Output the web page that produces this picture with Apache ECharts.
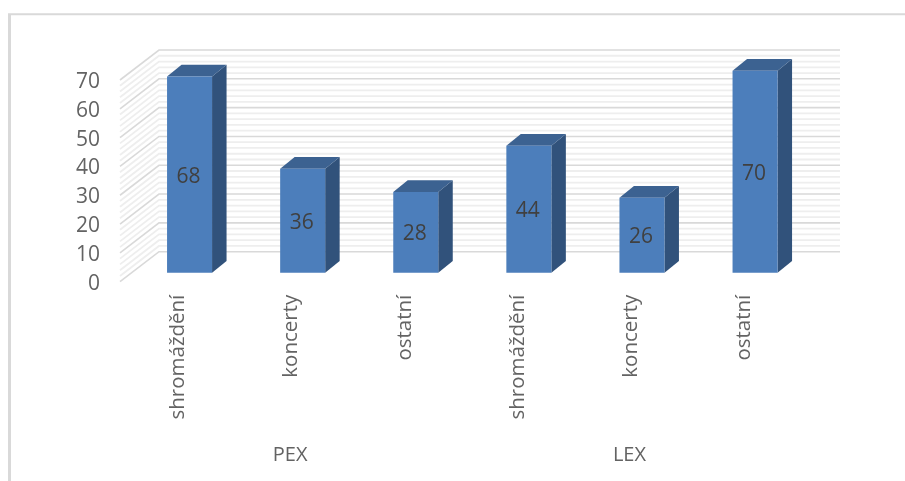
<!DOCTYPE html>
<html><head><meta charset="utf-8">
<style>html,body{margin:0;padding:0;background:#fff}#c{width:905px;height:481px}</style>
<script src="https://cdn.jsdelivr.net/npm/echarts@6/dist/echarts.min.js"></script>
</head><body><div id="c"></div>
<script>
const categories = ['shromáždění','koncerty','ostatní','shromáždění','koncerty','ostatní'];
const groups = ['PEX','LEX'];
const values = [68,36,28,44,26,70];
const majorTicks = [0,10,20,30,40,50,60,70];
const minorTicks = [2,4,6,8,12,14,16,18,22,24,26,28,32,34,36,38,42,44,46,48,52,54,56,58,62,64,66,68];
const barDepth = [14.5,-11.7], wallDepth = [39,-30], wallRight = 840, wallShift = [-2,-2];
const FONT = '"Open Sans"', TXT = '#636363';

function wall(ticks, color, width){
  return function(params, api){
    const cs = params.coordSys, p = api.coord([0, api.value(0)]);
    const x0 = cs.x + wallShift[0], y0 = p[1] + wallShift[1];
    return {type:'polyline', silent:true,
      shape:{points:[[x0,y0],[x0+wallDepth[0],y0+wallDepth[1]],[wallRight,y0+wallDepth[1]]]},
      style:{stroke:color,lineWidth:width,fill:null}};
  };
}
function box(params, api){
  const i = api.value(0), v = api.value(1);
  const top = api.coord([i,v]), base = api.coord([i,0]);
  const w = api.size([1,0])[0]*0.398, l = top[0]-w/2, r = top[0]+w/2;
  const [dx,dy] = barDepth;
  return {type:'group',children:[
    {type:'polygon',shape:{points:[[r,top[1]],[r+dx,top[1]+dy],[r+dx,base[1]+dy],[r,base[1]]]},style:{fill:'#31527b'}},
    {type:'polygon',shape:{points:[[l,top[1]],[l+dx,top[1]+dy],[r+dx,top[1]+dy],[r,top[1]]]},style:{fill:'#3c6291'}}
  ]};
}
const chart = echarts.init(document.getElementById('c'));
chart.setOption({
  animation:false,
  backgroundColor:'#fff',
  graphic:[
    {type:'line',shape:{x1:8,y1:14.3,x2:905,y2:14.3},style:{stroke:'#d9d9d9',lineWidth:2},z:-10},
    {type:'line',shape:{x1:9.5,y1:14,x2:9.5,y2:481},style:{stroke:'#d9d9d9',lineWidth:3},z:-10}
  ],
  grid:[
    {left:133,top:70.7,width:678.6,height:202},
    {left:122,top:82,width:678.6,height:201.7}
  ],
  xAxis:[
    {gridIndex:0,type:'category',data:categories,show:false},
    {gridIndex:1,type:'category',data:categories,position:'bottom',axisLine:{show:false},axisTick:{show:false},
      axisLabel:{rotate:90,interval:0,margin:11,fontFamily:FONT,fontSize:20.5,color:TXT}},
    {gridIndex:1,type:'category',data:groups,position:'bottom',axisLine:{show:false},axisTick:{show:false},
      axisLabel:{interval:0,margin:162,padding:[0,3,0,0],fontFamily:FONT,fontSize:20,color:TXT}}
  ],
  yAxis:[
    {gridIndex:0,type:'value',min:0,max:70,interval:10,show:false},
    {gridIndex:1,type:'value',min:0,max:70,interval:10,axisLine:{show:false},axisTick:{show:false},splitLine:{show:false},
      axisLabel:{margin:22,fontFamily:FONT,fontSize:21,color:TXT}}
  ],
  series:[
    {type:'custom',xAxisIndex:1,yAxisIndex:1,z:1,silent:true,renderItem:wall(minorTicks,'#eeeeee',1.8),data:minorTicks.map(v=>[v]),encode:{y:0},tooltip:{show:false}},
    {type:'custom',xAxisIndex:1,yAxisIndex:1,z:2,silent:true,renderItem:wall(majorTicks,'#d9d9d9',1.6),data:majorTicks.map(v=>[v]),encode:{y:0},tooltip:{show:false}},
    {type:'custom',xAxisIndex:0,yAxisIndex:0,z:3,renderItem:box,data:values.map((v,i)=>[i,v]),encode:{x:0,y:1}},
    {type:'bar',xAxisIndex:0,yAxisIndex:0,z:4,data:values,barWidth:45,
      itemStyle:{color:'#4c7ebb'},
      label:{show:true,position:'inside',offset:[-1,2],fontFamily:FONT,fontSize:21,color:'#404040'}}
  ]
});
</script></body></html>
